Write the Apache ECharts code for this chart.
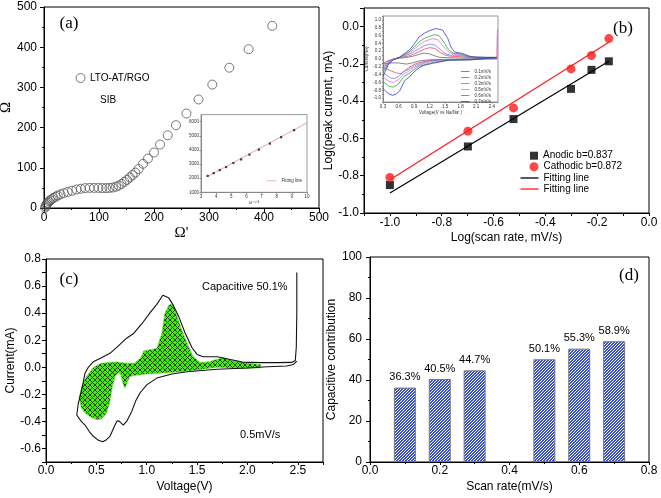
<!DOCTYPE html>
<html><head><meta charset="utf-8">
<script src="https://cdn.jsdelivr.net/npm/echarts@6/dist/echarts.min.js"></script>
<style>html,body{margin:0;padding:0;background:#fff}#c{width:661px;height:498px}</style>
</head><body><div id="c"></div>
<script>
// ---------- (a) Nyquist ----------
const nyqX = [2,3,4,5,7,9,11,14,17,21,25,30,36,43,51,59,67,75,83,91,99,106,113,119,125,131,136,141,146,151,156,161,166,172,180,189,200,211,225,240,259,281,306,337,372,415];
const nyqY = [1,4,7,10,13,16,19,22,25,28,31,34,37,40,43,46,48,49.5,50,50,50,49.5,49.5,50,51,53,56,60,65,70,76,82,88,97,110,123,138,158,181,206,235,270,307,349,395,453];
// inset of (a)
const insX = [3.44,3.84,4.24,4.66,5.14,5.65,6.20,6.82,7.55,8.29,9.15,10.03];
const insY = [2164,2357,2571,2786,3071,3329,3664,4021,4450,4900,5400,5971];
const insFitX = [3.4,10.0];
const insFitY = [2100,5920];
// ---------- (b) log-log ----------
const logRate  = [-1.0,-0.699,-0.523,-0.301,-0.222,-0.155];
const anodic   = [-0.85,-0.643,-0.496,-0.334,-0.232,-0.186];
const cathodic = [-0.809,-0.561,-0.436,-0.227,-0.155,-0.064];
const fitX = [-1.0,-0.155];
const anodicFit = [-0.893,-0.186];
const cathodicFit = [-0.821,-0.084];
// inset of (b): CV curves
const cvNames = ['0.1mV/s','0.2mV/s','0.3mV/s','0.5mV/s','0.6mV/s','0.7mV/s'];
const cv01 = [[0.3,-0.12],[0.4,-0.04],[0.5,0.0],[0.62,0.02],[0.8,0.05],[0.9,0.08],[1.0,0.12],[1.1,0.15],[1.2,0.13],[1.3,0.08],[1.4,0.04],[1.6,0.03],[2.0,0.02],[2.5,0.02],[2.5,-0.005],[2.0,-0.005],[1.5,-0.01],[1.2,-0.02],[1.0,-0.05],[0.9,-0.09],[0.75,-0.13],[0.6,-0.1],[0.45,-0.1],[0.35,-0.12],[0.3,-0.12]];
const cv02 = [[0.3,-0.2],[0.4,-0.06],[0.5,0.0],[0.62,0.03],[0.8,0.08],[0.9,0.13],[1.0,0.19],[1.1,0.25],[1.2,0.29],[1.3,0.27],[1.4,0.17],[1.5,0.1],[1.6,0.07],[1.8,0.06],[2.0,0.035],[2.5,0.03],[2.5,-0.01],[2.0,-0.01],[1.5,-0.015],[1.2,-0.04],[1.0,-0.09],[0.9,-0.14],[0.8,-0.22],[0.72,-0.3],[0.65,-0.37],[0.56,-0.36],[0.45,-0.3],[0.35,-0.24],[0.3,-0.22]];
const cv03 = [[0.3,-0.25],[0.4,-0.08],[0.5,0.0],[0.62,0.04],[0.8,0.12],[0.9,0.19],[1.0,0.27],[1.1,0.34],[1.2,0.38],[1.3,0.36],[1.4,0.25],[1.5,0.14],[1.6,0.1],[1.8,0.09],[1.95,0.05],[2.1,0.035],[2.5,0.035],[2.5,-0.01],[2.0,-0.015],[1.5,-0.02],[1.2,-0.05],[1.0,-0.12],[0.9,-0.18],[0.8,-0.26],[0.7,-0.32],[0.6,-0.45],[0.52,-0.5],[0.44,-0.48],[0.35,-0.4],[0.3,-0.36]];
const cv05 = [[0.3,-0.3],[0.4,-0.1],[0.5,-0.01],[0.62,0.04],[0.8,0.15],[0.9,0.25],[1.0,0.36],[1.1,0.45],[1.25,0.52],[1.35,0.5],[1.45,0.35],[1.55,0.2],[1.65,0.13],[1.8,0.11],[1.95,0.06],[2.1,0.04],[2.5,0.04],[2.51,0.75],[2.5,-0.01],[2.0,-0.015],[1.5,-0.025],[1.2,-0.07],[1.0,-0.15],[0.9,-0.22],[0.8,-0.31],[0.7,-0.38],[0.6,-0.53],[0.5,-0.6],[0.42,-0.58],[0.34,-0.5],[0.3,-0.46]];
const cv06 = [[0.3,-0.35],[0.4,-0.12],[0.5,-0.02],[0.62,0.04],[0.8,0.18],[0.9,0.3],[1.0,0.44],[1.1,0.53],[1.2,0.58],[1.28,0.62],[1.38,0.6],[1.48,0.42],[1.56,0.25],[1.65,0.15],[1.8,0.13],[1.95,0.07],[2.1,0.045],[2.5,0.04],[2.5,-0.01],[2.0,-0.02],[1.55,-0.03],[1.25,-0.09],[1.0,-0.18],[0.9,-0.27],[0.8,-0.37],[0.7,-0.45],[0.6,-0.64],[0.5,-0.72],[0.42,-0.7],[0.34,-0.62],[0.3,-0.58]];
const cv07 = [[0.3,-0.45],[0.4,-0.15],[0.5,-0.02],[0.62,0.05],[0.81,0.23],[0.9,0.38],[1.0,0.57],[1.1,0.66],[1.19,0.72],[1.32,0.78],[1.45,0.74],[1.55,0.53],[1.61,0.31],[1.68,0.18],[1.84,0.14],[1.95,0.08],[2.03,0.055],[2.3,0.04],[2.5,0.04],[2.5,-0.01],[2.0,-0.02],[1.58,-0.03],[1.26,-0.11],[1.1,-0.16],[1.0,-0.22],[0.9,-0.33],[0.81,-0.46],[0.72,-0.55],[0.62,-0.82],[0.55,-0.9],[0.48,-0.93],[0.4,-0.88],[0.33,-0.8],[0.3,-0.75]];
// ---------- (c) CV at 0.5 mV/s ----------
const cvV = [2.49,2.49,2.485,2.475,2.44,2.3,2.13,1.95,1.83,1.70,1.56,1.50,1.45,1.38,1.316,1.25,1.217,1.16,1.10,1.03,0.95,0.87,0.80,0.70,0.635,0.55,0.47,0.42,0.387,0.354,0.321,0.305,0.35,0.387,0.43,0.47,0.52,0.563,0.60,0.635,0.665,0.685,0.707,0.73,0.767,0.80,0.85,0.89,0.933,1.0,1.1,1.25,1.4,1.7,2.0,2.2,2.39,2.457,2.49];
const cvI = [0.70,0.40,0.15,0.05,0.036,0.034,0.034,0.038,0.058,0.078,0.078,0.095,0.144,0.255,0.378,0.476,0.513,0.532,0.465,0.40,0.32,0.25,0.215,0.145,0.103,0.07,0.041,0.0,-0.045,-0.168,-0.266,-0.353,-0.40,-0.427,-0.475,-0.51,-0.54,-0.55,-0.535,-0.51,-0.46,-0.427,-0.395,-0.40,-0.427,-0.40,-0.328,-0.25,-0.19,-0.13,-0.08,-0.05,-0.033,-0.015,-0.005,0.004,0.009,0.021,0.045];
const capV = [0.33,0.36,0.40,0.47,0.55,0.62,0.70,0.80,0.88,0.94,0.97,1.03,1.10,1.15,1.18,1.22,1.26,1.30,1.34,1.40,1.46,1.53,1.62,1.70,1.76,1.86,2.0,2.13,2.13,1.9,1.7,1.5,1.3,1.13,1.0,0.87,0.834,0.80,0.784,0.765,0.74,0.72,0.69,0.66,0.63,0.60,0.55,0.51,0.45,0.39,0.35];
const capI = [-0.22,-0.13,-0.07,0.0,0.03,0.035,0.04,0.03,0.03,0.07,0.12,0.13,0.14,0.25,0.40,0.46,0.47,0.38,0.29,0.18,0.08,0.035,0.04,0.06,0.07,0.045,0.03,0.02,-0.005,-0.01,0.0,-0.02,-0.035,-0.045,-0.05,-0.06,-0.07,-0.12,-0.156,-0.12,-0.05,-0.04,-0.06,-0.14,-0.27,-0.34,-0.38,-0.39,-0.37,-0.34,-0.30];
// ---------- (d) capacitive contribution ----------
const scanRate = [0.1,0.2,0.3,0.5,0.6,0.7];
const capContrib = [36.3,40.5,44.7,50.1,55.3,58.9];

// ---------- styling helpers ----------
const SANS = '"Liberation Sans", Arial, sans-serif';
const SERIF = '"Liberation Serif", "Times New Roman", serif';
const zip = (a,b) => a.map((v,i)=>[v,b[i]]);

function hatchBlue(){
  const c=document.createElement('canvas'); c.width=3; c.height=3;
  const g=c.getContext('2d'); const im=g.createImageData(3,3);
  for(let y=0;y<3;y++)for(let x=0;x<3;x++){
    const k=(y*3+x)*4; const on=(x+y)%3!==0;
    const col = on?[52,78,214]:[255,255,255];
    im.data[k]=col[0];im.data[k+1]=col[1];im.data[k+2]=col[2];im.data[k+3]=255;
  }
  g.putImageData(im,0,0); return c;
}
function hatchGreen(){
  const n=5; const c=document.createElement('canvas'); c.width=n; c.height=n;
  const g=c.getContext('2d'); const im=g.createImageData(n,n);
  for(let y=0;y<n;y++)for(let x=0;x<n;x++){
    const k=(y*n+x)*4; const on=(x===y)||(x+y===n-1);
    const col = on?[30,70,20]:[70,235,10];
    im.data[k]=col[0];im.data[k+1]=col[1];im.data[k+2]=col[2];im.data[k+3]=255;
  }
  g.putImageData(im,0,0); return c;
}
const bluePat = {image: hatchBlue(), repeat:'repeat'};
const greenPat = {image: hatchGreen(), repeat:'repeat'};

function axis(o){
  return {
    type:'value', gridIndex:o.g, min:o.min, max:o.max, interval:o.iv,
    axisLine:{show:true,onZero:false,lineStyle:{color:o.lc||'#000',width:1}},
    axisTick:{show:true,inside:!!o.tin,length:o.tl==null?4:o.tl,lineStyle:{color:o.lc||'#000'}},
    minorTick:{show:!!o.minor,splitNumber:2,length:o.ml||2,lineStyle:{color:o.lc||'#000'}},
    splitLine:{show:false},
    axisLabel:{color:o.tc||'#000',fontSize:o.fs||12,fontFamily:SANS,margin:o.margin==null?4:o.margin,formatter:o.fmt||(v=>String(v)),showMaxLabel:o.showMax!==false},
    name:o.name||'', nameLocation:'middle', nameGap:o.ng||20,
    nameTextStyle:Object.assign({color:o.tc||'#000',fontSize:o.nfs||12,fontFamily:o.nff||SANS},o.nts||{})
  };
}
const evenTenth = v => { const r=Math.round(v*10); if(r%2!==0) return ''; return (Math.abs(v)<1e-9?0:v).toFixed(1); };
const fix1 = v => (Math.abs(v)<1e-9?0:v).toFixed(1);

const grids = [
  {left:44,top:7,width:275,height:201},
  {left:201,top:114.6,width:106,height:77.7,backgroundColor:'#fff',borderColor:'#999'},
  {left:364,top:8,width:285,height:205},
  {left:383,top:16,width:115,height:86,backgroundColor:'#fff',borderColor:'#999'},
  {left:46,top:259,width:277,height:203},
  {left:370,top:257,width:279,height:205}
].map(g=>Object.assign({show:true,borderColor:'#000',borderWidth:1,containLabel:false,outerBoundsMode:'none'},g));

const xAxes = [
  axis({g:0,min:0,max:500,iv:100,minor:true,name:"Ω'",nff:SERIF,nfs:15,ng:18}),
  axis({g:1,min:3,max:10,iv:1,lc:'#888',tc:'#333',fs:4.5,tl:1.5,margin:2,name:'ω⁻¹ᐟ²',nfs:4.5,ng:7}),
  axis({g:2,min:-1.1,max:0,iv:0.1,fmt:evenTenth,name:'Log(scan rate, mV/s)',ng:19,tl:3}),
  axis({g:3,min:0.3,max:2.52,iv:0.3,lc:'#888',tc:'#333',fs:4.5,tl:1.5,margin:2,showMax:false,fmt:fix1,name:'Voltage(V vs Na/Na⁺)',nfs:4.5,ng:8}),
  axis({g:4,min:0,max:2.75,iv:0.5,minor:true,showMax:false,fmt:fix1,name:'Voltage(V)',ng:19,tl:3,margin:3}),
  axis({g:5,min:0,max:0.8,iv:0.2,minor:true,fmt:fix1,name:'Scan rate(mV/s)',ng:19,tl:3,margin:3})
];
const yAxes = [
  axis({g:0,min:0,max:500,iv:100,minor:true,name:'Ω',nff:SERIF,nfs:15,ng:30,margin:7}),
  axis({g:1,min:1000,max:6500,iv:1000,lc:'#888',tc:'#333',fs:4.5,tl:1.5,margin:2,showMax:false}),
  axis({g:2,min:-1.0,max:0.1,iv:0.2,minor:true,showMax:false,fmt:fix1,name:'Log(peak current, mA)',ng:20,margin:5}),
  axis({g:3,min:-1.1,max:1.1,iv:0.1,lc:'#888',tc:'#333',fs:4.5,tl:1,margin:2,fmt:evenTenth,name:'Current(mA)',nfs:4.5,ng:11}),
  axis({g:4,min:-0.7,max:0.8,iv:0.1,fmt:evenTenth,name:'Current(mA)',ng:27,margin:5}),
  axis({g:5,min:0,max:100,iv:20,minor:true,name:'Capacitive contribution',ng:22,margin:8})
];

const cvColors = ['#666666','#e8456a','#6f7ff2','#e070d0','#2aa838','#3a3ad0'];
const cvSets = [cv01,cv02,cv03,cv05,cv06,cv07];

const series = [
  {name:'LTO-AT/RGO',type:'scatter',xAxisIndex:0,yAxisIndex:0,data:zip(nyqX,nyqY),symbol:'circle',symbolSize:9,
   itemStyle:{color:'rgba(255,255,255,0)',borderColor:'#555',borderWidth:1}},
  {name:'insPts',type:'scatter',xAxisIndex:1,yAxisIndex:1,data:zip(insX,insY),symbol:'rect',symbolSize:2.2,itemStyle:{color:'#111'},z:4},
  {name:'Fitting line  ',type:'line',xAxisIndex:1,yAxisIndex:1,data:zip(insFitX,insFitY),symbol:'none',lineStyle:{color:'#eaa0b4',width:1},color:'#eaa0b4',z:3},
  {name:'Anodic b=0.837',type:'scatter',xAxisIndex:2,yAxisIndex:2,data:zip(logRate,anodic),symbol:'rect',symbolSize:8,itemStyle:{color:'#000'},z:4},
  {name:'Cathodic b=0.872',type:'scatter',xAxisIndex:2,yAxisIndex:2,data:zip(logRate,cathodic),symbol:'circle',symbolSize:9,itemStyle:{color:'#ff1a1a'},z:4},
  {name:'Fitting line',type:'line',xAxisIndex:2,yAxisIndex:2,data:zip(fitX,anodicFit),symbol:'none',lineStyle:{color:'#000',width:1.2},color:'#000'},
  {name:'Fitting line ',type:'line',xAxisIndex:2,yAxisIndex:2,data:zip(fitX,cathodicFit),symbol:'none',lineStyle:{color:'#ff1a1a',width:1.2},color:'#ff1a1a'}
];
cvSets.forEach((d,i)=>series.push({name:cvNames[i],type:'line',xAxisIndex:3,yAxisIndex:3,data:d,symbol:'none',
  lineStyle:{color:cvColors[i],width:0.8},color:cvColors[i],z:3}));
series.push({name:'capArea',type:'custom',xAxisIndex:4,yAxisIndex:4,data:zip(capV,capI),z:2,
  renderItem:(p,api)=>{
    if(p.dataIndex!==0) return null;
    const pts=capV.map((v,i)=>api.coord([v,capI[i]]));
    return {type:'polygon',shape:{points:pts},style:{fill:greenPat,stroke:'#55dd33',lineWidth:0.5}};
  }});
series.push({name:'cv05main',type:'line',xAxisIndex:4,yAxisIndex:4,data:zip(cvV,cvI),symbol:'none',lineStyle:{color:'#111',width:1.1},z:3});
series.push({name:'contrib',type:'bar',xAxisIndex:5,yAxisIndex:5,data:zip(scanRate,capContrib),barWidth:22,
  itemStyle:{color:bluePat,borderColor:'#777',borderWidth:1},
  label:{show:true,position:'top',distance:5,fontSize:11,fontFamily:SANS,color:'#000',formatter:p=>p.value[1].toFixed(1)+'%'}});

function leg(name,icon,left,top,w,h,fs,lh,color,istyle){
  const l = {data:[{name:name,icon:icon}],left:left,top:top,padding:0,itemWidth:w,itemHeight:h,selectedMode:false,
    textStyle:{fontSize:fs,fontFamily:SANS,color:color||'#000',lineHeight:lh}};
  if(istyle) l.itemStyle = istyle;
  return l;
}
const legends = [
  leg('LTO-AT/RGO','circle',75.5,73,9,9,10,10,'#000',{color:'rgba(255,255,255,0)',borderColor:'#555',borderWidth:1}),
  leg('Fitting line  ','rect',266.5,178.3,10,0.8,4.5,4,'#333'),
  leg('Anodic b=0.837','rect',530,150.7,8,8,10,10),
  leg('Cathodic b=0.872','circle',529.5,161.7,9,9,10,10),
  leg('Fitting line','rect',520.5,173,18,1.3,10,10),
  leg('Fitting line ','rect',520.5,184,18,1.3,10,10),
  {data:cvNames.map(n=>({name:n,icon:'rect'})),orient:'vertical',left:461,top:69,padding:0,itemWidth:8.5,itemHeight:0.8,itemGap:1,selectedMode:false,
   textStyle:{fontSize:4.5,fontFamily:SANS,color:'#333',lineHeight:4}}
];

function txt(t,x,y,font,align){
  return {type:'text',x:x,y:y,z:100,style:{text:t,font:font,fill:'#000',align:align||'left',textAlign:align||'left',verticalAlign:'middle',textVerticalAlign:'middle'}};
}
const graphics = [
  txt('(a)',69,24,'17px '+SERIF,'center'),
  txt('(b)',623,29,'17px '+SERIF,'center'),
  txt('(c)',69,280,'17px '+SERIF,'center'),
  txt('(d)',629,276,'17px '+SERIF,'center'),
  txt('SIB',100,100,'10px '+SANS),
  txt('Capacitive 50.1%',202,287,'11px '+SANS),
  txt('0.5mV/s',240,435,'11px '+SANS)
];

const chart = echarts.init(document.getElementById('c'),null,{renderer:'canvas'});
chart.setOption({
  animation:false, backgroundColor:'#fff',
  grid:grids, xAxis:xAxes, yAxis:yAxes, series:series, legend:legends, graphic:graphics
});
</script></body></html>
